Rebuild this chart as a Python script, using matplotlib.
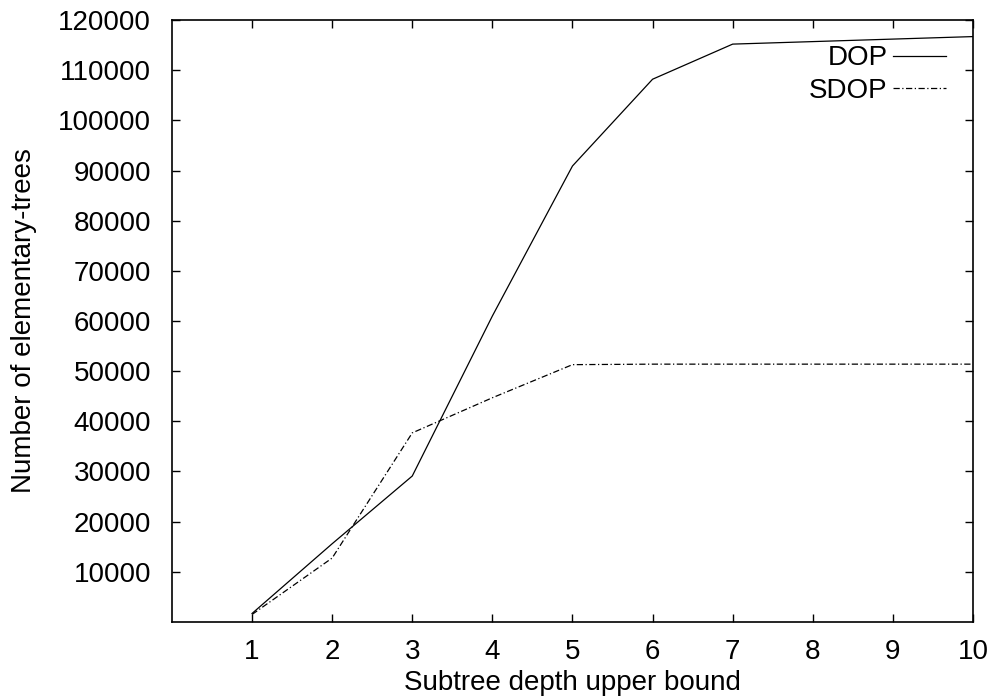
import matplotlib
matplotlib.use("Agg")
import matplotlib.pyplot as plt

plt.rcParams['font.family'] = ['Liberation Sans', 'DejaVu Sans']

depth = [1, 2, 3, 4, 5, 6, 7, 8, 9, 10]
dop = [1700, 15600, 29100, 61000, 90900, 108200, 115200, 115700, 116200, 116700]
sdop = [1500, 12750, 37700, 44700, 51300, 51400, 51400, 51400, 51400, 51400]

fig = plt.figure(figsize=(9.9, 6.98), dpi=100)
ax = fig.add_axes([0.1737, 0.1089, 0.8091, 0.8624])

ax.plot(depth, dop, color='black', lw=0.9, label='DOP')
ax.plot(depth, sdop, color='black', lw=0.9, dashes=(5, 2, 1, 2), label='SDOP')

ax.set_xlim(0, 10)
ax.set_ylim(0, 120000)
ax.set_xticks(depth)
ax.set_yticks(range(10000, 120001, 10000))
ax.tick_params(direction='in', length=6, width=1, top=True, right=True,
               labelsize=20)
ax.tick_params(axis='y', pad=15)
ax.tick_params(axis='x', pad=12)
for s in ax.spines.values():
    s.set_linewidth(1.2)

ax.set_xlabel('Subtree depth upper bound', fontsize=20, labelpad=4)
ax.set_ylabel('Number of elementary-trees', fontsize=20, labelpad=15)

ax.legend(loc='upper right', bbox_to_anchor=(0.966, 0.958), frameon=False,
          markerfirst=False, fontsize=20, handlelength=1.9,
          handletextpad=0.2, labelspacing=0.23, borderaxespad=0,
          borderpad=0)

fig.savefig('out.png', dpi=100)
